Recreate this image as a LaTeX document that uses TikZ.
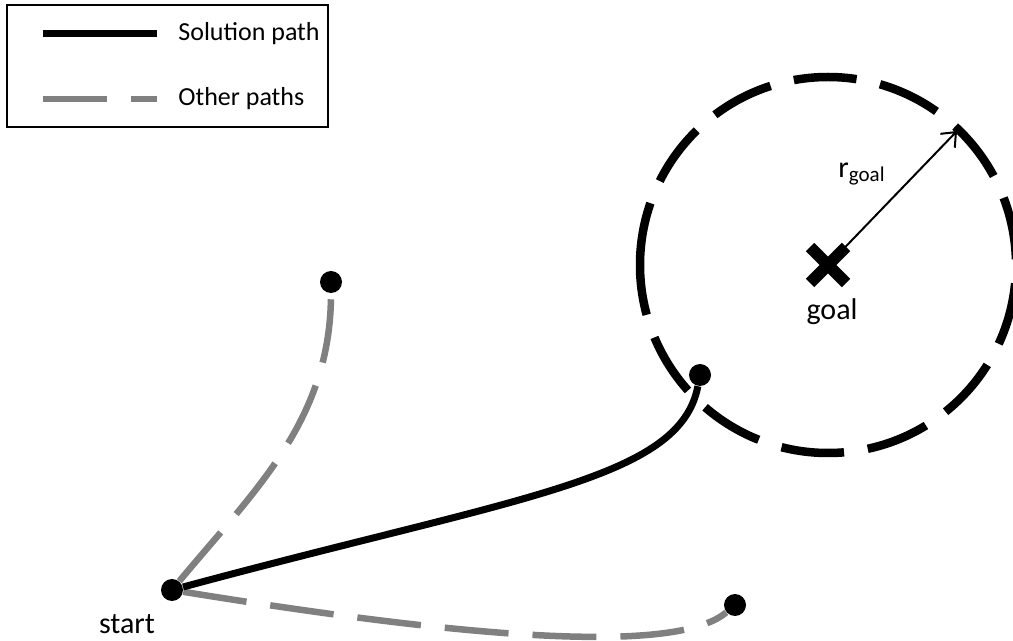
\documentclass[tikz,border=0pt]{standalone}
\usepackage{fontspec}
\setmainfont{Carlito}
\usetikzlibrary{arrows.meta, positioning, shapes.misc}

\begin{document}
\begin{tikzpicture}[
    x=0.5pt, y=-0.5pt,
    sol/.style={line width=3.5pt, black},
    other/.style={line width=3.25pt, black!50, dash pattern=on 32pt off 12pt},
    ring/.style={line width=4.25pt, dash pattern=on 31.5pt off 12pt},
    dot/.style={circle, fill=black, inner sep=0pt, minimum size=11pt},
    lbl/.style={font=\fontsize{15}{18}\selectfont, inner sep=1pt},
    legtxt/.style={font=\fontsize{13}{16}\selectfont, anchor=west, inner sep=0pt},
    goalmark/.style={cross out, draw, line width=6pt, minimum size=12pt, inner sep=0pt},
    radarr/.style={-{Straight Barb[length=6pt, width=10pt]}, line width=1pt},
]
\useasboundingbox (0,0) rectangle (1013,641);

% Legend
\draw[line width=1.2pt] (7,5) rectangle (328,127);
\coordinate (sa) at (43,34);
\coordinate (sb) at (157,34);
\coordinate (oa) at (43,99);
\coordinate (ob) at (157,99);
\draw[sol] (sa) -- (sb);
\draw[other] (oa) -- (ob);
\node[legtxt] (soltxt) at (178,34) {Solution path};
\node[legtxt] (othtxt) at (178,99) {Other paths};

% Nodes of the tree
\node[dot] (start) at (172,590) {};
\node[dot] (up) at (331,282) {};
\node[dot] (near) at (700,375) {};
\node[dot] (low) at (735,605) {};
\node[goalmark] (goal) at (828,265) {};
\coordinate (rim) at (957,131);

% Goal region
\draw[ring] (goal.center) ++(-188,0) arc[start angle=180, end angle=540, radius=188];
\draw[radarr] (goal.center) -- (rim);

% Paths
\draw[other] (start) .. controls (255,490) and (331,420) .. (up);
\draw[other] (start) .. controls (420,630) and (670,660) .. (low);
\draw[sol] (start) .. controls (520,496) and (680,480) .. (near);

% Labels
\node[lbl] (startlbl) at (127,624) {start};
\node[lbl] (goallbl) at (832,312) {goal};
\node[lbl] (rlbl) at (862,174) {r\textsubscript{goal}};

\end{tikzpicture}
\end{document}
